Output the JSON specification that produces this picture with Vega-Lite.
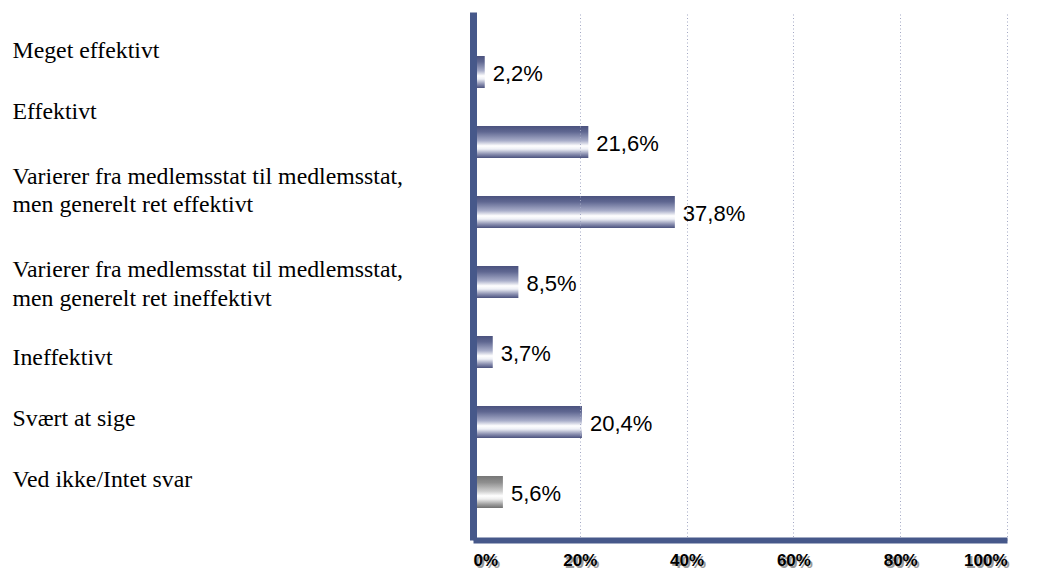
{
  "$schema": "https://vega.github.io/schema/vega-lite/v6.json",
  "width": 534,
  "height": 528,
  "autosize": {"type": "none"},
  "padding": {"left": 473, "top": 12, "right": 30, "bottom": 32},
  "background": "white",
  "config": {
    "view": {"stroke": null},
    "locale": {"number": {"decimal": ",", "thousands": ".", "grouping": [3], "currency": ["", " kr."]}}
  },
  "data": {
    "values": [
      {"cat": "Meget effektivt", "value": 0.022},
      {"cat": "Effektivt", "value": 0.216},
      {"cat": "Varierer fra medlemsstat til medlemsstat,|men generelt ret effektivt", "value": 0.378},
      {"cat": "Varierer fra medlemsstat til medlemsstat,|men generelt ret ineffektivt", "value": 0.085},
      {"cat": "Ineffektivt", "value": 0.037},
      {"cat": "Svært at sige", "value": 0.204},
      {"cat": "Ved ikke/Intet svar", "value": 0.056}
    ]
  },
  "encoding": {
    "y": {
      "field": "cat",
      "type": "nominal",
      "sort": null,
      "scale": {"paddingInner": 0.543, "paddingOuter": 0.543, "align": 0.579},
      "axis": {
        "title": null,
        "orient": "left",
        "zindex": 2,
        "ticks": false,
        "tickSize": 0,
        "domainColor": "#46588a",
        "domainWidth": 7,
        "labelAlign": "left",
        "labelBaseline": "middle",
        "labelPadding": 461,
        "labelFont": "Liberation Serif",
        "labelFontSize": 23.8,
        "labelLineHeight": 28.5,
        "labelColor": "#000000",
        "labelLimit": 600,
        "labelOverlap": false,
        "labelBound": false,
        "labelExpr": "split(datum.label, '|')",
        "labelOffset": {"expr": "datum.value === 'Meget effektivt' ? -21 : datum.value === 'Effektivt' ? -30 : datum.value === 'Varierer fra medlemsstat til medlemsstat,|men generelt ret effektivt' ? -35.5 : datum.value === 'Varierer fra medlemsstat til medlemsstat,|men generelt ret ineffektivt' ? -12 : datum.value === 'Ineffektivt' ? 6 : datum.value === 'Svært at sige' ? -3 : -12"}
      }
    }
  },
  "layer": [
    {
      "mark": {"type": "bar", "orient": "horizontal"},
      "encoding": {
        "x": {
          "field": "value",
          "type": "quantitative",
          "scale": {"domain": [0, 1], "nice": false},
          "axis": {
            "title": null,
            "orient": "bottom",
            "zindex": 1,
            "values": [0, 0.2, 0.4, 0.6, 0.8, 1],
            "format": ".0%",
            "domain": false,
            "grid": false,
            "ticks": false,
            "tickSize": 0,
            "labelPadding": 14,
            "labelOffset": 2,
            "labelFont": "Liberation Sans",
            "labelFontWeight": "bold",
            "labelFontSize": 17,
            "labelColor": "#9a9a9a",
            "labelOverlap": false,
            "labelBound": false
          }
        },
        "color": {
          "condition": {
            "test": "datum.cat === 'Ved ikke/Intet svar'",
            "value": {
              "gradient": "linear", "x1": 0, "y1": 0, "x2": 0, "y2": 1,
              "stops": [
                {"offset": 0, "color": "#777777"},
                {"offset": 0.2, "color": "#8e8e8e"},
                {"offset": 0.48, "color": "#cfcfcf"},
                {"offset": 0.62, "color": "#ffffff"},
                {"offset": 0.72, "color": "#eeeeee"},
                {"offset": 0.88, "color": "#a0a0a0"},
                {"offset": 1, "color": "#707070"}
              ]
            }
          },
          "value": {
            "gradient": "linear", "x1": 0, "y1": 0, "x2": 0, "y2": 1,
            "stops": [
              {"offset": 0, "color": "#4b527e"},
              {"offset": 0.18, "color": "#5f6791"},
              {"offset": 0.46, "color": "#a8adc9"},
              {"offset": 0.62, "color": "#ffffff"},
              {"offset": 0.72, "color": "#eef0f6"},
              {"offset": 0.88, "color": "#8a8fb0"},
              {"offset": 1, "color": "#4b527e"}
            ]
          }
        }
      }
    },
    {
      "mark": {"type": "text", "align": "left", "baseline": "middle", "dx": 8, "dy": 2, "font": "Liberation Sans", "fontSize": 22, "color": "#000000"},
      "encoding": {
        "x": {
          "field": "value",
          "type": "quantitative",
          "scale": {"domain": [0, 1], "nice": false},
          "axis": {
            "title": null,
            "orient": "bottom",
            "zindex": 2,
            "values": [0, 0.2, 0.4, 0.6, 0.8, 1],
            "format": ".0%",
            "domain": true,
            "domainColor": "#46588a",
            "domainWidth": 6,
            "grid": true,
            "gridColor": "#a3a8c4",
            "gridDash": [1, 2.5],
            "gridWidth": 1,
            "ticks": false,
            "tickSize": 0,
            "labelPadding": 12,
            "labelFont": "Liberation Sans",
            "labelFontWeight": "bold",
            "labelFontSize": 17,
            "labelColor": "#000000",
            "labelOverlap": false,
            "labelBound": false
          }
        },
        "text": {"field": "value", "type": "quantitative", "format": ".1%"}
      }
    }
  ],
  "resolve": {"axis": {"x": "independent"}}
}
